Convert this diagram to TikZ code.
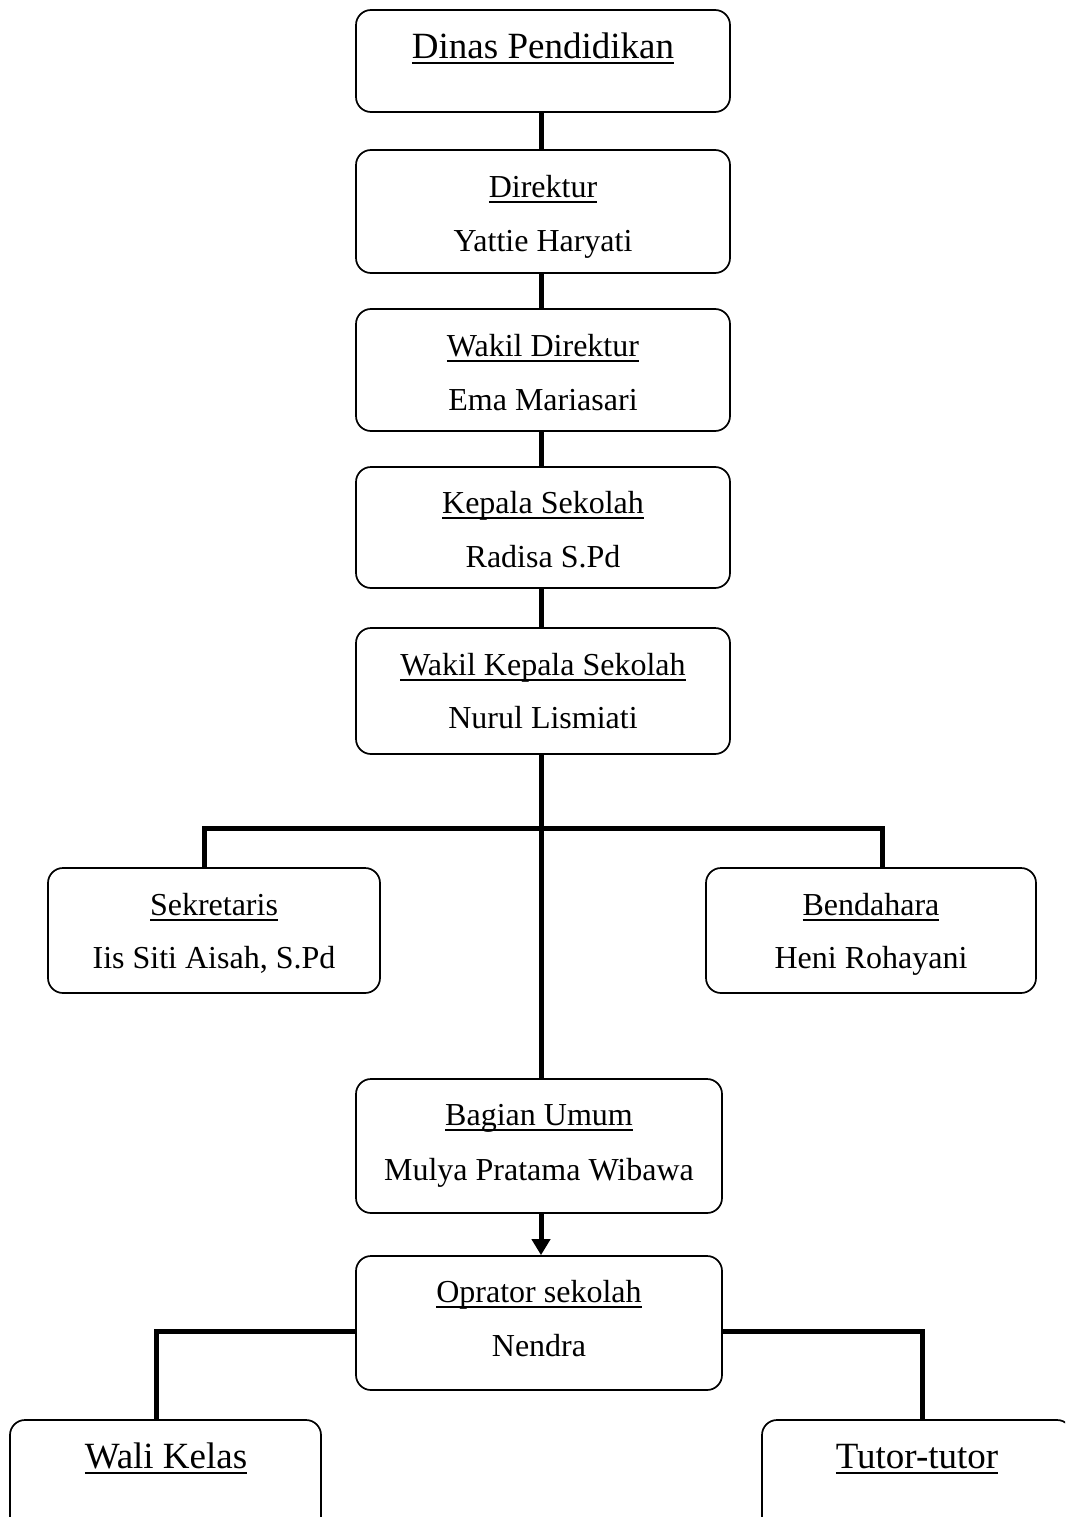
\documentclass[tikz,border=0pt]{standalone}
\usepackage{fontspec}
\setmainfont{Liberation Serif}
\usetikzlibrary{arrows.meta}
\newcommand\ulx[1]{\setbox0=\hbox{#1}\rlap{\vrule height -3.5pt depth 5.5pt width \wd0}\box0}
\tikzset{
  bx/.style={draw, line width=1.7pt, rounded corners=15pt, inner sep=0pt, fill=white},
  txt/.style={anchor=base, inner sep=0pt, font=\fontsize{32}{38}\selectfont},
  big/.style={anchor=base, inner sep=0pt, font=\fontsize{37}{44}\selectfont},
  conn/.style={line width=5pt, line join=miter},
  arr/.style={line width=5pt, -{Triangle[length=16pt,width=18pt]}}
}
\begin{document}
\begin{tikzpicture}[x=1pt,y=-1pt]
\useasboundingbox (0,0) rectangle (1065,1517);
\clip (0,0) rectangle (1065,1517);
% boxes
\node[bx, minimum width=374pt, minimum height=102pt] (dinas) at (543,61) {};
\node[bx, minimum width=374pt, minimum height=123pt] (dir) at (543,211.5) {};
\node[bx, minimum width=374pt, minimum height=122pt] (wdir) at (543,370) {};
\node[bx, minimum width=374pt, minimum height=121pt] (kep) at (543,527.5) {};
\node[bx, minimum width=374pt, minimum height=126pt] (wkep) at (543,691) {};
\node[bx, minimum width=332pt, minimum height=125pt] (sek) at (214,930.5) {};
\node[bx, minimum width=330pt, minimum height=125pt] (ben) at (871,930.5) {};
\node[bx, minimum width=366pt, minimum height=134pt] (bag) at (539,1146) {};
\node[bx, minimum width=366pt, minimum height=134pt] (opr) at (539,1323) {};
\node[bx, minimum width=311pt, minimum height=130pt] (wali) at (165.5,1485) {};
\node[bx, minimum width=310pt, minimum height=130pt] (tutor) at (917,1485) {};
% texts
\node[big] (t1) at (543,59) {\ulx{Dinas Pendidikan}};
\node[txt] (t2) at (543,197) {\ulx{Direktur}};
\node[txt] (t3) at (543,251) {Yattie Haryati};
\node[txt] (t4) at (543,356) {\ulx{Wakil Direktur}};
\node[txt] (t5) at (543,410) {Ema Mariasari};
\node[txt] (t6) at (543,513) {\ulx{Kepala Sekolah}};
\node[txt] (t7) at (543,567) {Radisa S.Pd};
\node[txt] (t8) at (543,675) {\ulx{Wakil Kepala Sekolah}};
\node[txt] (t9) at (543,728) {Nurul Lismiati};
\node[txt] (t10) at (214,915) {\ulx{Sekretaris}};
\node[txt] (t11) at (214,968) {Iis Siti Aisah, S.Pd};
\node[txt] (t12) at (871,915) {\ulx{Bendahara}};
\node[txt] (t13) at (871,968) {Heni Rohayani};
\node[txt] (t14) at (539,1125) {\ulx{Bagian Umum}};
\node[txt] (t15) at (539,1180) {Mulya Pratama Wibawa};
\node[txt] (t16) at (539,1302) {\ulx{Oprator sekolah}};
\node[txt] (t17) at (539,1356) {Nendra};
\node[big] (t18) at (166,1468) {\ulx{Wali Kelas}};
\node[big] (t19) at (917,1468) {\ulx{Tutor-tutor}};
% connectors
\coordinate (cx) at (541,0);
\draw[conn] (cx |- dinas.south) -- (cx |- dir.north);
\draw[conn] (cx |- dir.south) -- (cx |- wdir.north);
\draw[conn] (cx |- wdir.south) -- (cx |- kep.north);
\draw[conn] (cx |- kep.south) -- (cx |- wkep.north);
\draw[conn] (cx |- wkep.south) -- (cx |- bag.north);
\coordinate (bl) at (204,828);
\coordinate (br) at (882,828);
\draw[conn] (bl |- sek.north) -- (bl) -- (br) -- (br |- ben.north);
\draw[arr] (cx |- bag.south) -- (cx |- opr.north);
\coordinate (ol) at (156,1331);
\coordinate (or) at (922,1331);
\draw[conn] (ol |- wali.north) -- (ol) -- (ol -| opr.west);
\draw[conn] (or |- tutor.north) -- (or) -- (or -| opr.east);
\end{tikzpicture}
\end{document}
